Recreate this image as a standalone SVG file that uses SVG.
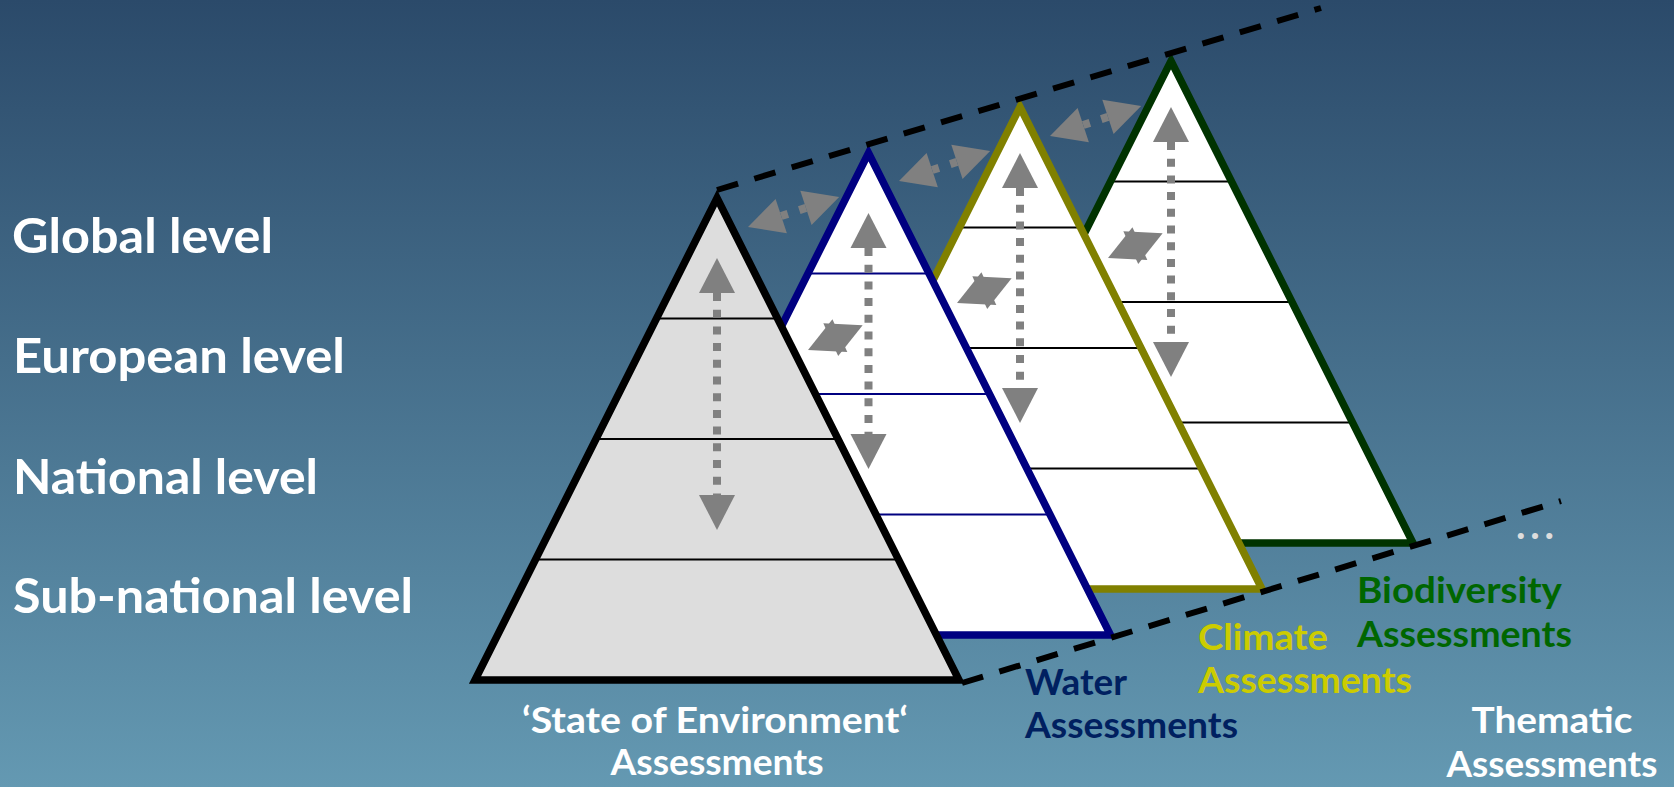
<svg xmlns="http://www.w3.org/2000/svg" width="1674" height="787" viewBox="0 0 1674 787">
<defs>
<linearGradient id="bg" x1="0" y1="0" x2="0" y2="1">
<stop offset="0" stop-color="#2b4a6a"/>
<stop offset="1" stop-color="#6499b2"/>
</linearGradient>
<style>
.lbl{font-family:Lato,"Liberation Sans",sans-serif;font-weight:bold;}
.lvl{font-size:48px;fill:#ffffff;}
.cap{font-size:36px;}
.tri{stroke-width:7.5;stroke-linejoin:miter;fill:none;}
.band{stroke-width:2;fill:none;}
.ar{fill:#808080;}
.sh{stroke:#808080;stroke-width:8;fill:none;stroke-dasharray:8 8.7;}
.bd{stroke:#000000;stroke-width:6;stroke-dasharray:22 17;fill:none;}
</style>
<g id="dbl">
<polygon class="ar" points="0,0 35,-18 35,18"/>
<polygon class="ar" points="96,0 61,-18 61,18"/>
<line x1="35" y1="0" x2="61" y2="0" stroke="#808080" stroke-width="8" stroke-dasharray="7 12"/>
</g>
<g id="sm">
<polygon class="ar" points="0,0 35,-18 35,18"/>
<polygon class="ar" points="60,0 25,-18 25,18"/>
</g>
</defs>

<rect x="0" y="0" width="1674" height="787" fill="url(#bg)"/>

<g id="levels" class="lbl lvl">
<text x="12" y="253" textLength="261" lengthAdjust="spacingAndGlyphs">Global level</text>
<text x="13" y="373" textLength="332" lengthAdjust="spacingAndGlyphs">European level</text>
<text x="13" y="494" textLength="305" lengthAdjust="spacingAndGlyphs">National level</text>
<text x="13" y="613" textLength="400" lengthAdjust="spacingAndGlyphs">Sub-national level</text>
</g>

<g id="biodiversity">
<g transform="translate(1171,61)">
<polygon points="0,0 242,482 -242,482" fill="#ffffff"/>
<g class="band" stroke="#000000">
<line x1="-60.5" y1="120.5" x2="60.5" y2="120.5"/>
<line x1="-121" y1="241" x2="121" y2="241"/>
<line x1="-181.5" y1="361.5" x2="181.5" y2="361.5"/>
</g>
<polygon class="tri" stroke="#003300" points="0,0 242,482 -242,482"/>
</g>
<g class="lbl cap" fill="#006600">
<text x="1357" y="603" textLength="205" lengthAdjust="spacingAndGlyphs">Biodiversity</text>
<text x="1357" y="647" textLength="215" lengthAdjust="spacingAndGlyphs">Assessments</text>
</g>
</g>

<g id="climate">
<g transform="translate(1020,107)">
<polygon points="0,0 242,482 -242,482" fill="#ffffff"/>
<g class="band" stroke="#000000">
<line x1="-60.5" y1="120.5" x2="60.5" y2="120.5"/>
<line x1="-121" y1="241" x2="121" y2="241"/>
<line x1="-181.5" y1="361.5" x2="181.5" y2="361.5"/>
</g>
<polygon class="tri" stroke="#808000" points="0,0 242,482 -242,482"/>
</g>
<g class="lbl cap" fill="#cccc00">
<text x="1198" y="650" textLength="130" lengthAdjust="spacingAndGlyphs">Climate</text>
<text x="1198" y="693" textLength="214" lengthAdjust="spacingAndGlyphs">Assessments</text>
</g>
</g>

<g id="water">
<g transform="translate(868.5,153)">
<polygon points="0,0 242,482 -242,482" fill="#ffffff"/>
<g class="band" stroke="#000080" stroke-width="1.8">
<line x1="-60.5" y1="120.5" x2="60.5" y2="120.5"/>
<line x1="-121" y1="241" x2="121" y2="241"/>
<line x1="-181.5" y1="361.5" x2="181.5" y2="361.5"/>
</g>
<polygon class="tri" stroke="#000080" points="0,0 242,482 -242,482"/>
</g>
<g class="lbl cap" fill="#002060">
<text x="1025" y="695" textLength="102" lengthAdjust="spacingAndGlyphs">Water</text>
<text x="1025" y="738" textLength="213" lengthAdjust="spacingAndGlyphs">Assessments</text>
</g>
</g>

<g id="soe">
<g transform="translate(717,198)">
<polygon points="0,0 242,482 -242,482" fill="#dddddd"/>
<g class="band" stroke="#000000">
<line x1="-60.5" y1="120.5" x2="60.5" y2="120.5"/>
<line x1="-121" y1="241" x2="121" y2="241"/>
<line x1="-181.5" y1="361.5" x2="181.5" y2="361.5"/>
</g>
<polygon class="tri" stroke="#000000" points="0,0 242,482 -242,482"/>
</g>
<g class="lbl cap" fill="#ffffff" text-anchor="middle">
<text x="715" y="733" textLength="386" lengthAdjust="spacingAndGlyphs">‘State of Environment‘</text>
<text x="717" y="775" textLength="213" lengthAdjust="spacingAndGlyphs">Assessments</text>
</g>
</g>

<g id="thematic">
<g class="lbl cap" fill="#ffffff" text-anchor="middle">
<text x="1552" y="733" textLength="161" lengthAdjust="spacingAndGlyphs">Thematic</text>
<text x="1552" y="777" textLength="211" lengthAdjust="spacingAndGlyphs">Assessments</text>
</g>
<text class="lbl" x="1516" y="539" font-size="40" fill="#dddddd" textLength="38" lengthAdjust="spacing">...</text>
</g>

<g id="connectors">
<line class="bd" x1="717" y1="190" x2="1321" y2="8"/>
<line class="bd" x1="962" y1="683" x2="1561" y2="501"/>

<polygon class="ar" points="717,258 735,293 699,293"/>
<line class="sh" x1="717" y1="293" x2="717" y2="495"/>
<polygon class="ar" points="717,530 735,495 699,495"/>

<polygon class="ar" points="868.5,213 886.5,248 850.5,248"/>
<line class="sh" x1="868.5" y1="248" x2="868.5" y2="434"/>
<polygon class="ar" points="868.5,469 886.5,434 850.5,434"/>

<polygon class="ar" points="1020,153 1038,188 1002,188"/>
<line class="sh" x1="1020" y1="188" x2="1020" y2="388"/>
<polygon class="ar" points="1020,423 1038,388 1002,388"/>

<polygon class="ar" points="1171,107 1189,142 1153,142"/>
<line class="sh" x1="1171" y1="142" x2="1171" y2="342"/>
<polygon class="ar" points="1171,377 1189,342 1153,342"/>

<use href="#dbl" transform="translate(748,227) rotate(-18.25)"/>
<use href="#dbl" transform="translate(899,181) rotate(-18.25)"/>
<use href="#dbl" transform="translate(1050,136) rotate(-18.25)"/>

<use href="#sm" transform="translate(808,350) rotate(-24.4)"/>
<use href="#sm" transform="translate(957,303) rotate(-24.4)"/>
<use href="#sm" transform="translate(1108,258) rotate(-24.4)"/>
</g>
</svg>
